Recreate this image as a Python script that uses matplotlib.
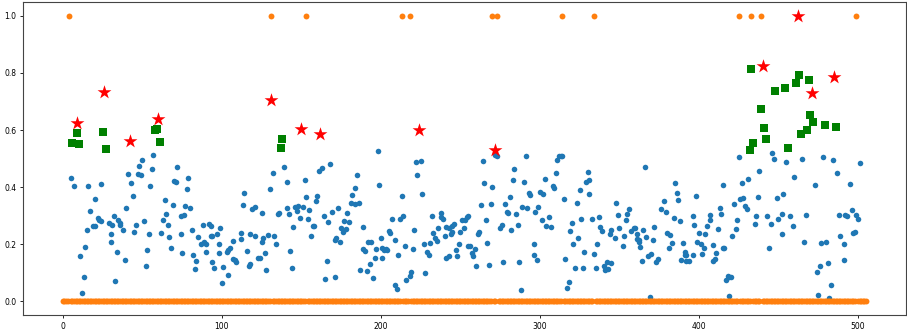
import matplotlib
matplotlib.use("Agg")
import matplotlib.pyplot as plt
import numpy as np

# blue scores (index, value)
blue_x = [5, 7, 11, 12, 13, 14, 15, 16, 17, 19, 20, 20, 22, 23, 24, 24, 29, 30, 30, 31, 32, 33, 34, 35, 36, 36, 38, 39, 40, 41, 43,
          44, 45, 46, 47, 48, 49, 50, 51, 52, 53, 54, 55, 56, 57, 62, 63, 64, 65, 66, 67, 68, 69, 70, 71, 72, 74, 74, 75, 76, 77, 78,
          79, 80, 81, 82, 83, 84, 85, 87, 88, 89, 90, 90, 92, 93, 94,
          93, 94, 95, 97, 98, 98, 99, 100, 101, 103, 104, 104, 105, 107, 107, 108, 109, 112, 112, 113, 114, 116, 117, 118, 118, 119,
          121, 121, 123, 124, 125, 125, 126, 127, 128, 129, 130, 132, 133, 134, 135, 136, 139, 141, 141, 142, 143, 144, 145,
          146, 147, 148, 149, 151, 152, 153, 154, 155, 156, 157, 158, 159, 160, 161, 163, 164, 165, 166, 167, 168, 169, 171, 171, 172,
          173, 174, 175, 176, 177, 178, 179, 180, 181, 182, 184, 184, 185, 186, 187, 189, 189, 190, 191, 192, 193, 194, 195, 196, 197,
          198, 199, 200, 201,
          201, 202, 203, 204, 205, 206, 207, 209, 209, 210, 211, 212, 213, 214, 215, 216, 218, 219, 220, 221, 222, 223, 225, 226, 227,
          228, 229, 230, 231, 232, 233, 234, 235, 236, 238, 238, 239, 240, 241, 241, 243, 243, 244, 245, 245, 246, 247, 248, 249, 250,
          251, 252, 253, 254, 255, 255,
          256, 257, 258, 259, 260, 261, 262, 263, 264, 265, 266, 267, 268, 269, 270, 272, 273, 275, 276, 277, 278, 279, 280, 281, 282,
          283, 284, 285, 286, 287, 288, 289, 290, 291, 292, 293, 294, 296, 296, 297, 298, 299, 300, 301, 302, 303, 304, 306, 307, 308,
          309, 310,
          311, 312, 313, 314, 315, 316, 317, 318, 319, 320, 321, 322, 323, 324, 325, 326, 327, 328, 329, 330, 331, 331, 333, 334, 335,
          336, 337, 338, 339, 340, 341, 342, 343, 344, 345, 345, 347, 348, 349, 350, 352, 353, 354, 355, 356, 357, 359, 360, 361, 362,
          361, 362, 363, 364, 365, 366, 367, 368, 369, 370, 371, 372, 373, 374, 376, 378, 379, 380, 381, 382, 383, 384, 385, 386, 387,
          388, 389, 390, 391, 391, 392, 392, 394, 396, 396, 397, 398, 399, 400, 401, 402, 403, 404, 405, 407, 407, 409, 409, 410, 411,
          412, 413, 414, 415, 415,
          416, 417, 418, 419, 419, 420, 421, 422, 423, 424, 425, 426, 427, 428, 429, 430, 431, 435, 436, 437, 438, 443, 444, 445, 446,
          447, 449, 450, 452, 452, 453, 455, 457, 459, 460, 465, 466, 467,
          473, 474, 475, 476, 477, 478, 480, 481, 482, 483, 484, 487, 488, 489, 491, 491, 492, 493, 495, 496, 497, 498, 499, 500, 501]
blue_y = [.433, .404, .159, .028, .083, .19, .251, .404, .317, .263, .358, .265, .292, .285, .281, .41, .275, .234, .206, .267, .298, .071, .171, .284, .268, .275, .251, .145, .325, .446, .415,
          .367, .241, .266, .446, .473, .442, .495, .281, .123, .178, .236, .404, .464, .511, .239, .283, .355, .304, .267, .226, .185, .337, .421, .418, .469, .297, .234, .17, .303, .333, .394,
          .432, .326, .25, .161, .111, .139, .225, .201, .266, .208, .173, .201, .271, .23, .136,
          .264, .229, .117, .235, .202, .17, .257, .064, .119, .174, .092, .181, .185, .147, .211, .144, .138, .217, .24, .337, .38, .177, .122, .13, .234, .324,
          .331, .228, .153, .151, .206, .309, .22, .168, .11, .233, .393, .451, .227, .201, .304, .31, .471, .419, .327, .306, .175, .115, .26,
          .329, .317, .333, .292, .33, .423, .366, .287, .32, .227, .265, .262, .352, .368, .455, .468, .299, .077, .14, .276, .482, .311, .215, .085, .221,
          .325, .206, .258, .243, .282, .253, .309, .276, .345, .373, .395, .341, .443, .343, .11, .261, .182, .177, .105, .206, .129, .209, .082, .153, .184,
          .527, .408, .223, .151,
          .185, .178, .182, .181, .246, .24, .289, .216, .056, .042, .163, .287, .367, .298, .192, .074, .089, .101, .182, .25, .488, .443, .492, .374, .202,
          .098, .171, .163, .205, .299, .24, .22, .212, .257, .294, .31, .288, .23, .261, .151, .158, .256, .237, .264, .242, .269, .18, .16, .2, .243,
          .284, .256, .285, .296, .298, .194,
          .193, .17, .159, .184, .123, .236, .244, .337, .492, .414, .284, .205, .125, .342, .4, .513, .509, .258, .268, .138, .34, .312, .309, .366, .25,
          .423, .464, .304, .267, .138, .039, .329, .418, .51, .326, .38, .373, .161, .199, .311, .145, .329, .382, .284, .374, .429, .264, .294, .26, .405,
          .395, .451,
          .495, .509, .51, .509, .358, .149, .046, .067, .246, .274, .2, .115, .345, .22, .391, .287, .117, .173, .416, .453, .425, .375, .287, .167, .115,
          .202, .295, .261, .247, .123, .109, .136, .111, .235, .132, .249, .223, .345, .302, .256, .193, .229, .284, .305, .324, .247, .255, .258, .218, .214,
          .235, .206, .191, .142, .25, .469, .226, .157, .014, .167, .213, .26, .136, .146, .323, .35, .311, .24, .185, .232, .205, .292, .414, .378, .354,
          .281, .144, .204, .174, .163, .163, .142, .139, .163, .297, .267, .37, .209, .24, .202, .167, .186, .236, .265, .284, .302, .14, .196, .146, .168,
          .254, .327, .304, .407, .187,
          .188, .075, .089, .083, .018, .083, .229, .339, .253, .284, .506, .357, .413, .361, .332, .324, .427, .27, .297, .366, .457, .298, .185, .269, .518,
          .499, .363, .287, .305, .234, .374, .487, .299, .264, .434, .497, .207, .302,
          .408, .103, .023, .124, .204, .504, .206, .135, .011, .058, .495, .451, .303, .229, .2, .143, .303, .297, .411, .319, .24, .242, .301, .288, .483]

# orange labels: 0 everywhere except these indices
n_samples = 506
label_one_idx = [4, 131, 153, 213, 218, 270, 273, 314, 334, 425, 433, 439, 499]

# green squares
green_x = [6, 9, 10, 25, 27, 58, 59, 61, 137, 138, 432, 433, 434, 439, 441, 442, 448, 454, 456, 461, 463, 464, 468, 469, 470, 472, 479, 486]
green_y = [.556, .588, .55, .593, .534, .6, .605, .559, .536, .57, .53, .815, .553, .674, .606, .57, .737, .747, .536, .765, .794, .586, .6, .777, .653, .627, .619, .61]

# red stars
red_x = [9, 26, 42, 60, 131, 150, 162, 224, 272, 440, 462, 471, 485]
red_y = [.625, .734, .56, .639, .706, .602, .585, .601, .531, .823, 1.0, .73, .785]

orange_x = np.arange(n_samples)
orange_y = np.zeros(n_samples)
orange_y[label_one_idx] = 1.0

fig, ax = plt.subplots(figsize=(9.07, 3.32), dpi=100)
fig.subplots_adjust(left=0.025, right=0.999, bottom=0.05, top=0.995)

ax.scatter(blue_x, blue_y, s=16, color="#1f77b4", linewidths=0)
ax.scatter(orange_x, orange_y, s=18, color="#ff7f0e", linewidths=0)
ax.scatter(green_x, green_y, s=28, marker="s", color="green", linewidths=0)
ax.scatter(red_x, red_y, s=110, marker="*", color="red", linewidths=0)

ax.set_xticks([0, 100, 200, 300, 400, 500])
ax.set_yticks([0.0, 0.2, 0.4, 0.6, 0.8, 1.0])
ax.tick_params(labelsize=5.5, length=2.5, width=0.6, pad=2)
for s in ax.spines.values():
    s.set_linewidth(0.8)
    s.set_color("#444444")

fig.savefig("out.png", dpi=100)
